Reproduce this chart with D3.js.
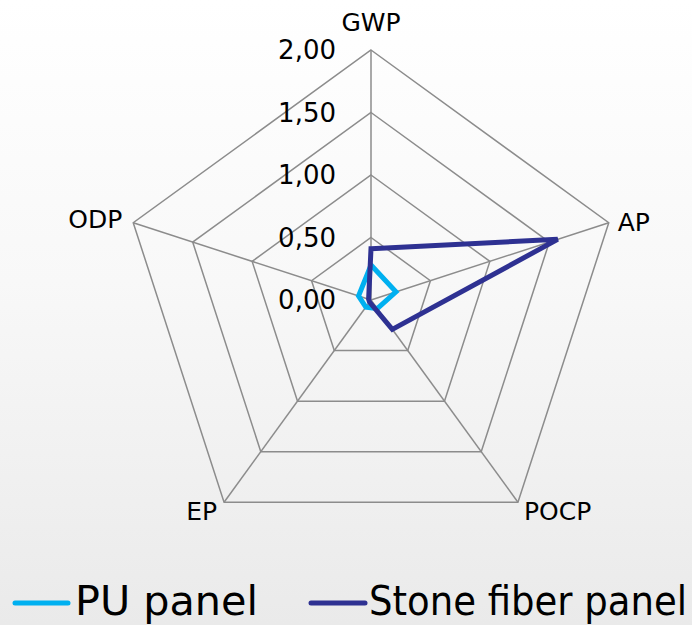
<!DOCTYPE html>
<html><head><meta charset="utf-8">
<script src="https://cdn.jsdelivr.net/npm/d3@7"></script>
<style>html,body{margin:0;padding:0;}svg{display:block;}</style>
</head><body>
<svg id="c" width="692" height="625"></svg>
<script>
const axes = ["GWP", "AP", "POCP", "EP", "ODP"];
const puPanel = [0.28, 0.21, 0.085, 0.07, 0.105];
const stoneFiber = [0.41, 1.57, 0.29, 0.02, 0.02];
const tickValues = [0, 0.5, 1.0, 1.5, 2.0];
const tickLabels = ["0,00", "0,50", "1,00", "1,50", "2,00"];
const seriesNames = ["PU panel", "Stone fiber panel"];
const seriesColors = ["#00b0f0", "#2e3192"];

const svg = d3.select("#c");
const W = 692, H = 625;
const defs = svg.append("defs");
const grad = defs.append("linearGradient").attr("id","bg").attr("x1",0).attr("y1",0).attr("x2",0).attr("y2",1);
grad.append("stop").attr("offset","0%").attr("stop-color","#ffffff");
grad.append("stop").attr("offset","45%").attr("stop-color","#f8f8f8");
grad.append("stop").attr("offset","100%").attr("stop-color","#eaeaea");
svg.append("rect").attr("width",W).attr("height",H).attr("fill","url(#bg)");

const cx = 371, cy = 300, R = 250;
const r = d3.scaleLinear().domain([0, 2]).range([0, R]);
const ang = d3.scalePoint().domain(axes).range([0, 2*Math.PI*(axes.length-1)/axes.length]);
const pt = (a, v) => [cx + r(v)*Math.sin(ang(a)), cy - r(v)*Math.cos(ang(a))];

const g = svg.append("g");
tickValues.filter(v => v > 0).forEach(v => {
  g.append("polygon")
    .attr("points", axes.map(a => pt(a, v).join(",")).join(" "))
    .attr("fill","none").attr("stroke","#8c8c8c").attr("stroke-width",1.5);
});
axes.forEach(a => {
  const p = pt(a, 2);
  g.append("line").attr("x1",cx).attr("y1",cy).attr("x2",p[0]).attr("y2",p[1])
    .attr("stroke","#8c8c8c").attr("stroke-width",1.5);
});
tickValues.forEach((v,i) => {
  g.append("text").attr("x",336).attr("y",cy - r(v)).attr("dy","0.36em")
    .attr("text-anchor","end").attr("font-family","DejaVu Sans").attr("font-size",26)
    .attr("fill","#000").text(tickLabels[i]);
});
const labelPos = {
  "GWP": {dx:0, dy:-19, anchor:"middle"},
  "AP": {dx:9, dy:8, anchor:"start"},
  "POCP": {dx:6, dy:18, anchor:"start"},
  "EP": {dx:-7, dy:18, anchor:"end"},
  "ODP": {dx:-11, dy:5, anchor:"end"}
};
axes.forEach(a => {
  const p = pt(a, 2), lp = labelPos[a];
  g.append("text").attr("x",p[0]+lp.dx).attr("y",p[1]+lp.dy)
    .attr("text-anchor",lp.anchor).attr("font-family","DejaVu Sans").attr("font-size",25)
    .attr("fill","#000").text(a);
});
const line = d3.line().curve(d3.curveLinearClosed);
[puPanel, stoneFiber].forEach((vals, i) => {
  g.append("path").attr("d", line(axes.map((a,j) => pt(a, vals[j]))))
    .attr("fill","none").attr("stroke",seriesColors[i]).attr("stroke-width",5)
    .attr("stroke-linejoin","miter");
});
const legendItems = [{x1:15, x2:68, tx:75, w:183}, {x1:311, x2:365, tx:369, w:318}];
seriesNames.forEach((n,i) => {
  const L = legendItems[i];
  svg.append("line").attr("x1",L.x1).attr("x2",L.x2).attr("y1",603).attr("y2",603)
    .attr("stroke",seriesColors[i]).attr("stroke-width",5).attr("stroke-linecap","round");
  svg.append("text").attr("x",L.tx).attr("y",615)
    .attr("font-family","DejaVu Sans Condensed").attr("font-stretch","condensed").attr("font-size",40)
    .attr("textLength",L.w).attr("lengthAdjust","spacingAndGlyphs")
    .attr("fill","#000").text(n);
});
</script>
</body></html>
